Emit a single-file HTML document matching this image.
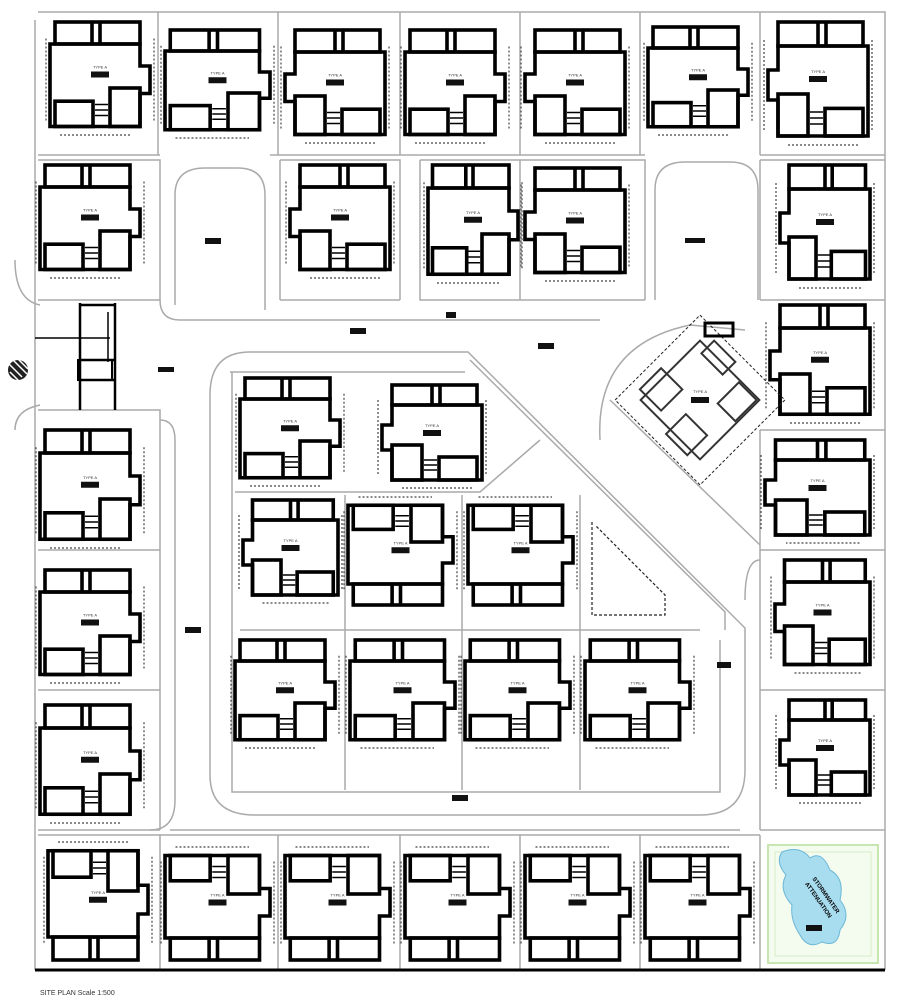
<!DOCTYPE html>
<html><head><meta charset="utf-8"><style>
html,body{margin:0;padding:0;background:#fff}
svg{display:block}
text{font-family:"Liberation Sans",sans-serif}
</style></head><body>
<svg id="s" width="912" height="1000" viewBox="0 0 912 1000" xmlns="http://www.w3.org/2000/svg">
<g fill="none" stroke="#aaa" stroke-width="1.5">
<path d="M38,12 L885,12 L885,970"/>
<path d="M35,20 L35,970"/>
<path d="M38,155 L160,155 M270,155 L645,155 M760,155 L885,155"/>
<path d="M158,12 L158,155 M278,12 L278,155 M400,12 L400,155 M520,12 L520,155 M640,12 L640,155 M760,12 L760,155"/>
<path d="M38,160 L160,160 L160,300 L38,300"/>
<path d="M280,160 L400,160 L400,300 M420,160 L520,160 L520,300 L420,300 L420,160 M520,160 L645,160 L645,300 M280,300 L400,300 M520,300 L645,300"/>
<path d="M280,160 L280,300"/>
<path d="M760,160 L885,160 M760,300 L885,300 M760,430 L885,430 M760,550 L885,550 M760,690 L885,690 M760,830 L885,830 M760,160 L760,300 M760,430 L760,830"/>
<path d="M38,410 L160,410 L160,830 M38,550 L160,550 M38,690 L160,690 M38,830 L160,830"/>
<path d="M38,835 L160,835 L160,970 M160,835 L760,835 M278,835 L278,970 M400,835 L400,970 M520,835 L520,970 M640,835 L640,970 M760,835 L760,970 L885,970"/>
<path d="M175,305 L175,195 Q175,168 205,168 L238,168 Q265,168 265,195 L265,310"/>
<path d="M655,300 L655,190 Q655,162 685,162 L730,162 Q758,162 758,190 L758,300"/>
<path d="M210,395 Q210,352 250,352 L468,352 L745,628 L745,770 Q745,815 700,815 L255,815 Q210,815 210,775 Z"/>
<path d="M230,372 L465,372 M232,372 L232,792 L720,792 L720,640"/>
<path d="M235,492 L480,492 L540,440 M240,630 L700,630 M345,495 L345,790 M462,495 L462,790 M580,495 L580,790"/>
<path d="M470,360 L725,612 L725,630"/>
<path d="M160,300 Q160,320 180,320 L420,320 Q450,320 480,320 L600,320"/>
<path d="M600,440 Q595,345 690,325 L745,330"/>
<path d="M610,400 L760,545"/>
<path d="M170,830 Q200,830 200,830 L740,830"/>
<path d="M15,260 Q15,300 40,305 M15,430 Q15,410 40,405"/>
<path d="M160,420 Q175,420 175,440 L175,800 Q175,830 150,830"/>
<path d="M760,560 Q745,560 745,600"/>
</g>
<g fill="none" stroke="#000" stroke-width="2.5">
<path d="M80,303 L80,410 M115,303 L115,410 M80,305 L115,305 M80,360 L115,360 M80,380 L115,380"/>
<rect x="78" y="360" width="34" height="20" stroke-width="2"/>
<path d="M108,312 L108,362 M35,338 L110,338" stroke-width="1.5"/>
</g>
<circle cx="18" cy="370" r="10" fill="#222"/>
<path d="M9,364 L22,377 M10,372 L20,382 M12,359 L27,374 M17,358 L28,369" stroke="#fff" stroke-width="1.5"/>
<rect x="768" y="845" width="110" height="118" fill="#f4fbef" stroke="#c8e6b0" stroke-width="2"/>
<rect x="775" y="852" width="96" height="104" fill="none" stroke="#d6ecc6" stroke-width="1"/>
<path d="M782,852 Q800,845 810,858 Q822,850 830,870 Q845,878 840,900 Q852,915 840,930 Q838,948 822,942 Q808,950 800,935 Q790,920 792,905 Q778,890 786,875 Q775,862 782,852 Z" fill="#a8dcef" stroke="#6cb8d6" stroke-width="1"/>
<text x="800" y="888" font-size="6" font-weight="bold" transform="rotate(55 815 895)">STORMWATER</text>
<text x="800" y="897" font-size="6" font-weight="bold" transform="rotate(55 815 895)">ATTENUATION</text>
<rect x="806" y="925" width="16" height="6" fill="#111"/>
<path d="M592,522 L592,615 L665,615 L665,595 L596,526" fill="none" stroke="#222" stroke-width="1.2" stroke-dasharray="3,2"/>
<g id="houses"></g>
<g fill="#111">
<rect x="205" y="238" width="16" height="6"/><rect x="350" y="328" width="16" height="6"/>
<rect x="538" y="343" width="16" height="6"/><rect x="158" y="367" width="16" height="5"/>
<rect x="185" y="627" width="16" height="6"/><rect x="717" y="662" width="14" height="6"/>
<rect x="452" y="795" width="16" height="6"/><rect x="685" y="238" width="20" height="5"/>
<rect x="446" y="312" width="10" height="6"/>
</g>
<text x="40" y="995" font-size="7" fill="#333">SITE PLAN    Scale 1:500</text>
<path d="M35,970 L885,970" stroke="#000" stroke-width="3"/>
</svg>
<script>
var H=[
[50,22,100,110,0],[165,30,105,105,0],[285,30,100,110,1],[405,30,100,110,0],[525,30,100,110,1],[648,27,100,105,0],[768,22,100,120,1],
[40,165,100,110,0],[290,165,100,110,1],[428,165,90,115,0],[525,168,100,110,1],[780,165,90,120,2],
[770,305,100,115,2],[765,440,105,100,2],[775,560,95,110,2],[780,700,90,100,2],
[40,430,100,115,0],[40,570,100,110,0],[40,705,100,115,0],
[48,845,100,115,3],[165,850,105,110,3],[285,850,105,110,3],[405,850,105,110,3],[525,850,105,110,3],[645,850,105,110,3],
[240,378,100,105,0],[382,385,100,100,2],[243,500,95,100,2],[348,500,105,105,3],[468,500,105,105,3],
[235,640,100,105,0],[350,640,105,105,0],[465,640,105,105,0],[585,640,105,105,0]
];
function shp(w,h){
 var s='';
 s+='<rect x="'+(0.05*w)+'" y="0" width="'+(0.85*w)+'" height="'+(0.2*h)+'"/>';
 s+='<path d="M'+(0.42*w)+',0 L'+(0.42*w)+','+(0.2*h)+' M'+(0.5*w)+',0 L'+(0.5*w)+','+(0.2*h)+'"/>';
 s+='<path d="M0,'+(0.2*h)+' L'+(0.9*w)+','+(0.2*h)+' L'+(0.9*w)+','+(0.4*h)+' L'+(w)+','+(0.4*h)+' L'+w+','+(0.65*h)+' L'+(0.9*w)+','+(0.65*h)+' L'+(0.9*w)+','+(0.95*h)+' L0,'+(0.95*h)+' Z"/>';
 s+='<rect x="'+(0.05*w)+'" y="'+(0.72*h)+'" width="'+(0.38*w)+'" height="'+(0.23*h)+'"/>';
 s+='<rect x="'+(0.6*w)+'" y="'+(0.6*h)+'" width="'+(0.3*w)+'" height="'+(0.35*h)+'"/>';
 s+='<path stroke-width="1.5" d="M'+(0.45*w)+','+(0.75*h)+' L'+(0.58*w)+','+(0.75*h)+' M'+(0.45*w)+','+(0.8*h)+' L'+(0.58*w)+','+(0.8*h)+' M'+(0.45*w)+','+(0.85*h)+' L'+(0.58*w)+','+(0.85*h)+'"/>';
 s+='<path stroke-width="1.2" stroke="#444" stroke-dasharray="2,2" d="M-4,'+(0.15*h)+' L-4,'+(0.9*h)+' M'+(w+4)+','+(0.15*h)+' L'+(w+4)+','+(0.9*h)+' M'+(0.1*w)+','+(h+3)+' L'+(0.8*w)+','+(h+3)+'"/>';
 return s;
}
var out='';
H.forEach(function(a){
 var x=a[0],y=a[1],w=a[2],h=a[3],m=a[4];
 var t='';
 if(m==1||m==2) t=' transform="translate('+(x+w)+','+y+') scale(-1,1)"';
 else if(m==3) t=' transform="translate('+x+','+(y+h)+') scale(1,-1)"';
 else t=' transform="translate('+x+','+y+')"';
 out+='<g fill="none" stroke="#000" stroke-width="3.6"'+t+'>'+shp(w,h)+'</g>';
 var cx=x+w*0.5, cy=y+h*0.45;
 out+='<text x="'+cx+'" y="'+(cy-3)+'" font-size="4" text-anchor="middle" fill="#333">TYPE A</text>';
 out+='<rect x="'+(cx-9)+'" y="'+(cy)+'" width="18" height="6" fill="#111"/>';
});
out+='<g fill="none" stroke="#333" stroke-width="2" transform="rotate(45 700 400)">'+
 '<rect x="658" y="358" width="84" height="84"/><rect x="668" y="348" width="30" height="18"/><rect x="715" y="360" width="25" height="30"/>'+
 '<rect x="650" y="405" width="30" height="30"/><rect x="700" y="420" width="30" height="28"/>'+
 '<rect x="640" y="340" width="120" height="120" stroke="#222" stroke-width="1" stroke-dasharray="3,2"/></g>';
out+='<text x="700" y="393" font-size="4" text-anchor="middle" fill="#333">TYPE A</text><rect x="691" y="397" width="18" height="6" fill="#111"/>';
out+='<rect x="705" y="323" width="28" height="13" fill="none" stroke="#000" stroke-width="3"/>';
document.getElementById('houses').innerHTML=out;
</script>
</body></html>
